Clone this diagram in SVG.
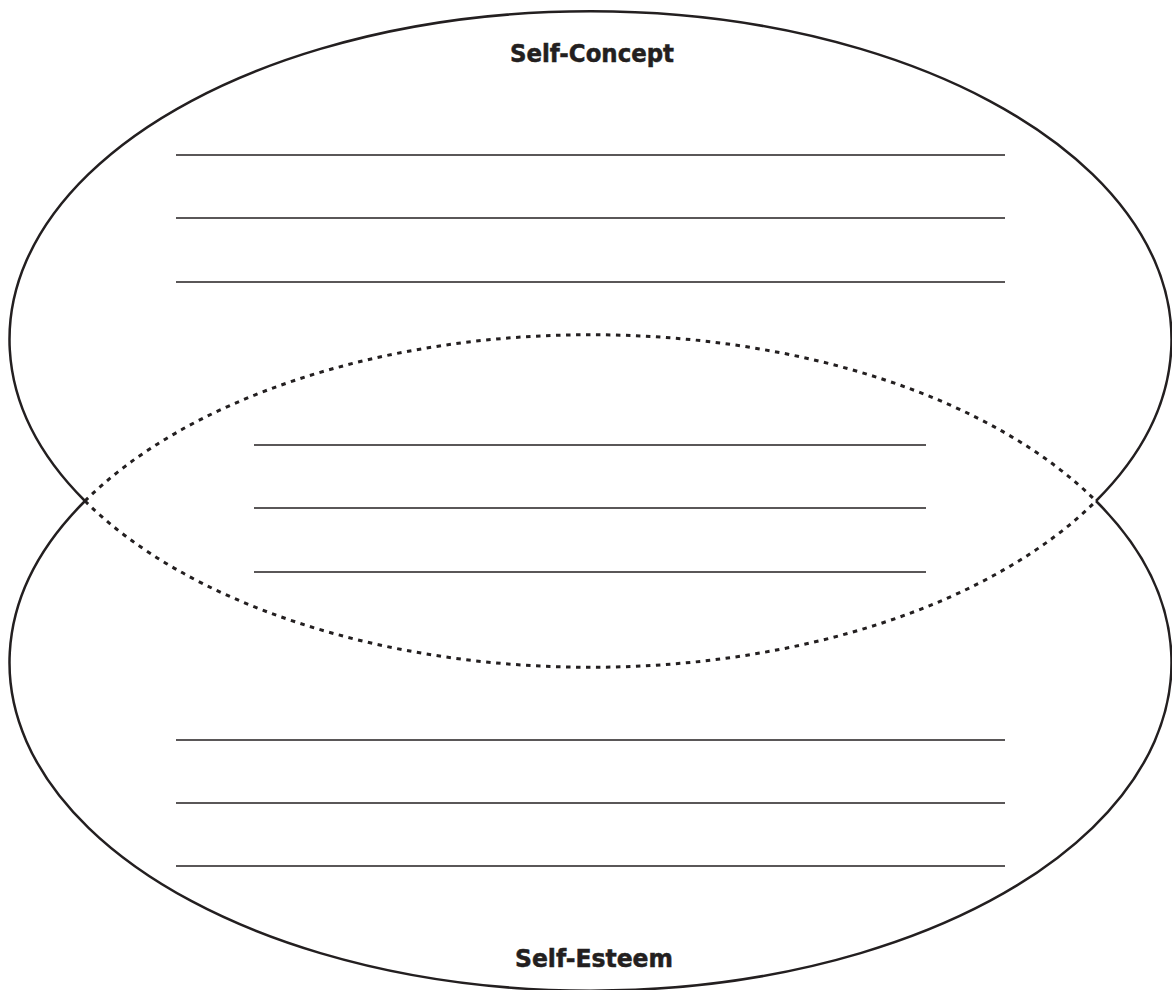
<svg xmlns="http://www.w3.org/2000/svg" width="1172" height="990" viewBox="0 0 1172 990">
<style>
.outer{fill:none;stroke:#231f20;stroke-width:2.5}
.dot{fill:none;stroke:#231f20;stroke-width:3;stroke-dasharray:4.5 5.5}
.rule{stroke:#231f20;stroke-width:1.3}
.lbl{font-family:"DejaVu Sans",sans-serif;font-weight:bold;font-size:24px;fill:#231f20;stroke:#231f20;stroke-width:0.5;text-anchor:middle}
</style>
<rect width="1172" height="990" fill="#fff"/>
<g id="self-concept">
<path class="outer" d="M 85 501 A 581 328 0 1 1 1096 501"/>
<path class="dot" d="M 85 501 A 581 328 0 0 0 1096 501"/>
<text class="lbl" x="592" y="62" textLength="164" lengthAdjust="spacingAndGlyphs">Self-Concept</text>
<line class="rule" x1="176" y1="155" x2="1005" y2="155"/>
<line class="rule" x1="176" y1="218" x2="1005" y2="218"/>
<line class="rule" x1="176" y1="282" x2="1005" y2="282"/>
</g>
<g id="self-esteem">
<path class="outer" d="M 85 501 A 581 328 0 1 0 1096 501"/>
<path class="dot" d="M 85 501 A 581 328 0 0 1 1096 501"/>
<text class="lbl" x="594" y="967" textLength="158" lengthAdjust="spacingAndGlyphs">Self-Esteem</text>
<line class="rule" x1="176" y1="740" x2="1005" y2="740"/>
<line class="rule" x1="176" y1="803" x2="1005" y2="803"/>
<line class="rule" x1="176" y1="866" x2="1005" y2="866"/>
</g>
<g id="overlap">
<line class="rule" x1="254" y1="445" x2="926" y2="445"/>
<line class="rule" x1="254" y1="508" x2="926" y2="508"/>
<line class="rule" x1="254" y1="572" x2="926" y2="572"/>
</g>
<g id="connectors"/>
</svg>
